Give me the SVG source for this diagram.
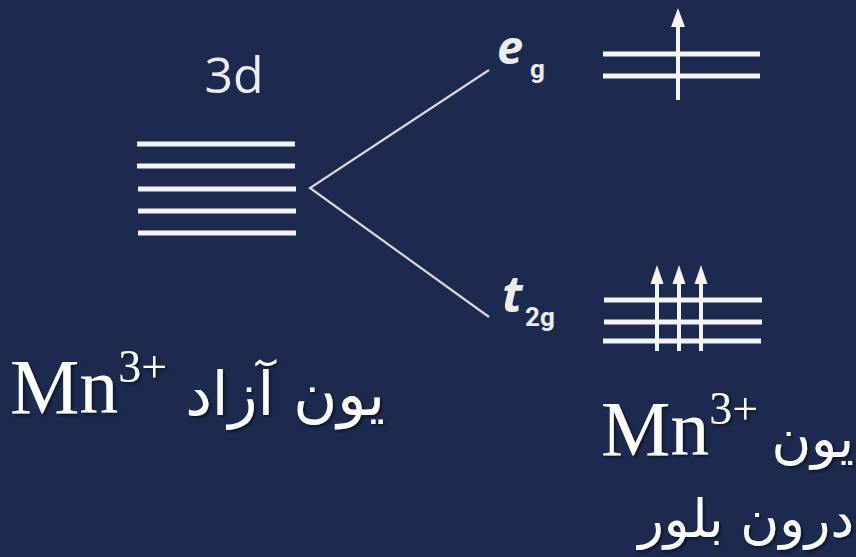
<svg xmlns="http://www.w3.org/2000/svg" width="856" height="557" viewBox="0 0 856 557">
<defs>
<style>
.lvl{stroke:#f4f4f4;stroke-width:5;stroke-linecap:butt;fill:none}
.con{stroke:#d8d8d8;stroke-width:2.2;fill:none}
.spin{stroke:#f4f4f4;stroke-width:4;fill:none}
.head{fill:#f4f4f4}
.sans{font-family:"Open Sans","DejaVu Sans",sans-serif;fill:#ececec}
.sub{font-family:Roboto,"Liberation Sans",sans-serif;fill:#ececec;font-weight:bold;font-size:26px}
.serif{font-family:"Liberation Serif","Times New Roman",serif;fill:#ffffff}
.ar{font-family:"DejaVu Sans","Noto Sans",sans-serif;fill:#ffffff}
</style>
<filter id="sh" x="-10%" y="-10%" width="120%" height="130%">
<feDropShadow dx="2" dy="2" stdDeviation="1.5" flood-color="#000000" flood-opacity="0.5"/>
</filter>
</defs>
<rect width="856" height="557" fill="#1c2a4f"/>

<g id="free-3d">
<text class="sans" x="234" y="93" font-size="50" text-anchor="middle">3d</text>
<line class="lvl" x1="137" y1="144" x2="295" y2="144"/>
<line class="lvl" x1="137" y1="166" x2="295" y2="166"/>
<line class="lvl" x1="138" y1="189" x2="296" y2="189"/>
<line class="lvl" x1="138" y1="211" x2="296" y2="211"/>
<line class="lvl" x1="138" y1="233" x2="296" y2="233"/>
</g>

<g id="connectors">
<polyline class="con" points="489,70 310,188 489,317"/>
</g>

<g id="eg">
<text class="sans" x="497" y="64" font-size="47" font-weight="bold" font-style="italic">e</text>
<text class="sub" x="530" y="78">g</text>
<line class="lvl" x1="603" y1="54" x2="760" y2="54"/>
<line class="lvl" x1="603" y1="76" x2="760" y2="76"/>
<line class="spin" x1="678" y1="24" x2="678" y2="100"/>
<polygon class="head" points="678,8 671,27 685,27"/>
</g>

<g id="t2g">
<text class="sans" x="502" y="312" font-size="50" font-weight="bold" font-style="italic">t</text>
<text class="sub" x="525" y="326">2g</text>
<line class="lvl" x1="604" y1="300" x2="762" y2="300"/>
<line class="lvl" x1="604" y1="322" x2="762" y2="322"/>
<line class="lvl" x1="603" y1="341" x2="761" y2="341"/>
<line class="spin" x1="657" y1="280" x2="657" y2="351"/>
<line class="spin" x1="679" y1="280" x2="679" y2="351"/>
<line class="spin" x1="701" y1="280" x2="701" y2="351"/>
<polygon class="head" points="657,265 650.5,284 663.5,284"/>
<polygon class="head" points="679,265 672.5,284 685.5,284"/>
<polygon class="head" points="701,265 694.5,284 707.5,284"/>
</g>

<g id="label-free" filter="url(#sh)">
<text class="serif" x="10" y="413" font-size="78">Mn<tspan font-size="46" dy="-31">3+</tspan></text>
<text class="ar" x="385" y="415" font-size="60" text-anchor="end">یون آزاد</text>
</g>

<g id="label-crystal" filter="url(#sh)">
<text class="serif" x="601" y="455" font-size="78">Mn<tspan font-size="46" dy="-31">3+</tspan></text>
<text class="ar" x="854" y="457" font-size="54" text-anchor="end">یون</text>
<text class="ar" x="854" y="537" font-size="53" text-anchor="end">درون بلور</text>
</g>
</svg>
